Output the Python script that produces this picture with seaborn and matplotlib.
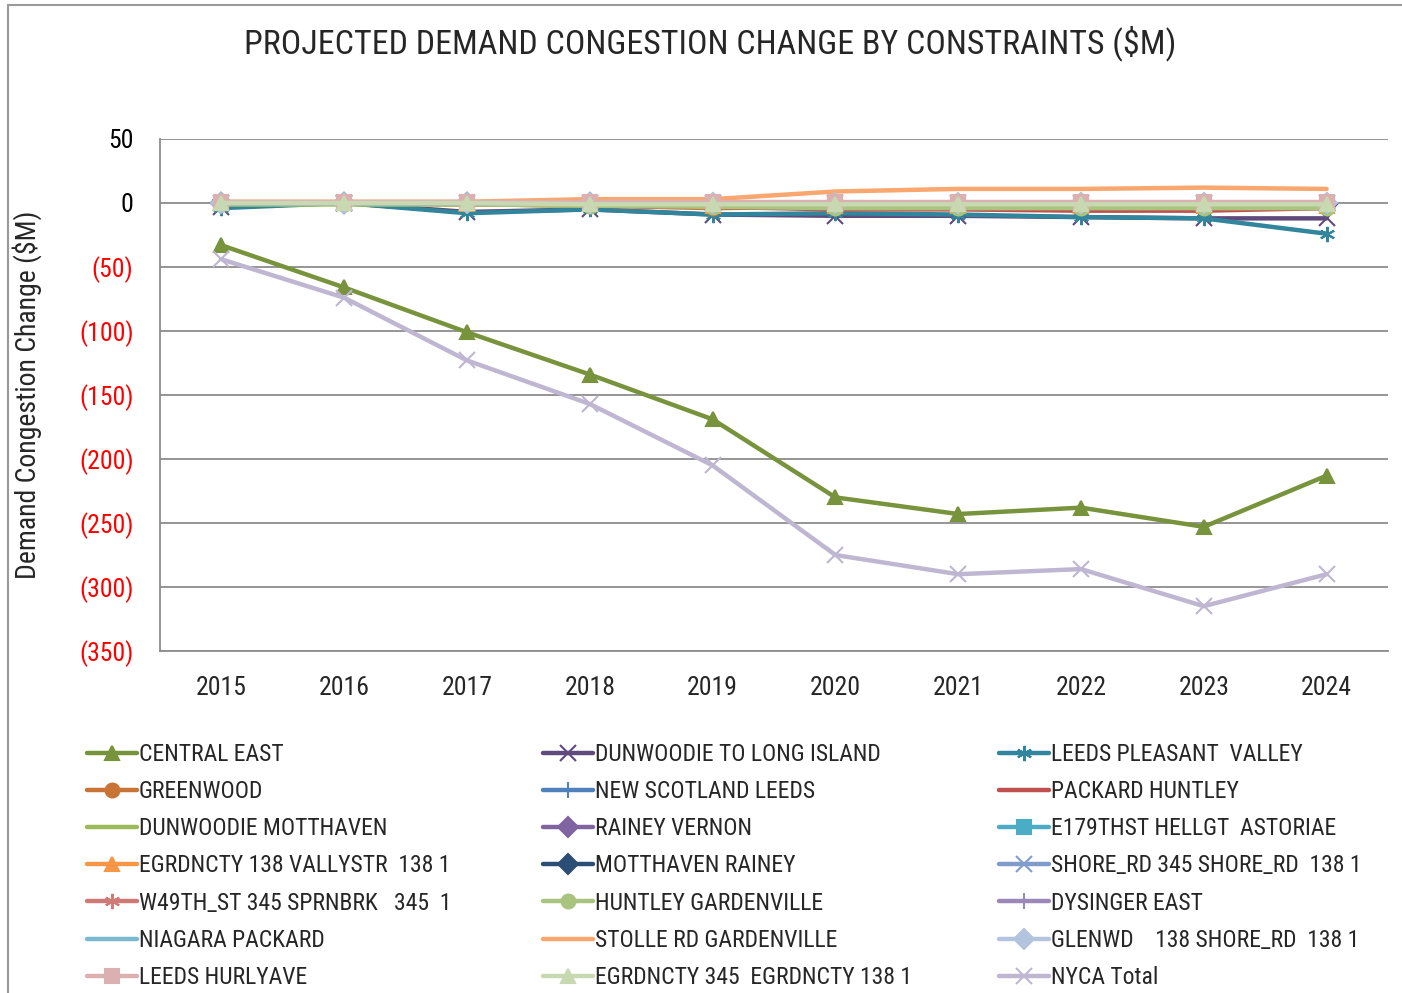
import matplotlib
matplotlib.use("Agg")
import matplotlib.pyplot as plt
from matplotlib.lines import Line2D
from matplotlib import font_manager
import seaborn as sns
import pandas as pd

years = [2015, 2016, 2017, 2018, 2019, 2020, 2021, 2022, 2023, 2024]

# series in legend (row-major) order
names = [
    "CENTRAL EAST", "DUNWOODIE TO LONG ISLAND", "LEEDS PLEASANT  VALLEY",
    "GREENWOOD", "NEW SCOTLAND LEEDS", "PACKARD HUNTLEY",
    "DUNWOODIE MOTTHAVEN", "RAINEY VERNON", "E179THST HELLGT  ASTORIAE",
    "EGRDNCTY 138 VALLYSTR  138 1", "MOTTHAVEN RAINEY", "SHORE_RD 345 SHORE_RD  138 1",
    "W49TH_ST 345 SPRNBRK   345  1", "HUNTLEY GARDENVILLE", "DYSINGER EAST",
    "NIAGARA PACKARD", "STOLLE RD GARDENVILLE", "GLENWD    138 SHORE_RD  138 1",
    "LEEDS HURLYAVE", "EGRDNCTY 345  EGRDNCTY 138 1", "NYCA Total",
]

central_east = [-33, -66, -101, -134, -169, -230, -243, -238, -253, -213]
dunwoodie_li = [-3, 0, -7, -5, -9, -10, -10, -11, -12, -12]
leeds_pv = [-4, 0, -8, -5, -9, -8, -9, -11, -12, -24]
greenwood = [0, 0, -1, -2, -4, -3, -3, -3, -3, -2]
new_scotland = [0, 0, 0, 0, -1, -1, -1, -1, -1, -1]
packard_huntley = [0, 0, -1, -2, -3, -5, -5, -6, -6, -4]
dunwoodie_mott = [-1, -1, -1, -2, -2, -3, -3, -3, -3, -3]
rainey_vernon = [0, 0, 0, -1, -1, -1, -1, -1, -1, -1]
e179 = [0, 0, 0, 0, 0, 0, 0, 0, 0, 0]
egrd138 = [0, 0, -1, -1, -2, -2, -2, -2, -2, -2]
mott_rainey = [0, 0, 0, 0, -1, -1, -1, -1, -1, -1]
shore_rd = [0, 0, 0, 0, 0, 0, 0, 0, 0, 0]
w49th = [0, 0, 0, 0, 0, 0, 0, 0, 0, 0]
huntley_gv = [-1, -1, -1, -2, -3, -4, -4, -4, -4, -4]
dysinger = [0, 0, 0, 0, 0, 0, 0, 0, 0, 0]
niagara = [0, 0, 0, 0, 0, 0, 0, 0, 0, 0]
stolle = [1, 1, 1, 3, 3, 9, 11, 11, 12, 11]
glenwd = [0, 0, 0, 0, 0, 0, 0, 0, 0, 0]
leeds_hurly = [1, 1, 1, 1, 1, 1, 1, 1, 1, 1]
egrd345 = [0, 0, 0, -1, -1, -1, -1, -1, -1, -1]
nyca_total = [-44, -74, -123, -157, -205, -275, -290, -286, -315, -290]

series = [central_east, dunwoodie_li, leeds_pv, greenwood, new_scotland, packard_huntley,
          dunwoodie_mott, rainey_vernon, e179, egrd138, mott_rainey, shore_rd,
          w49th, huntley_gv, dysinger, niagara, stolle, glenwd, leeds_hurly, egrd345, nyca_total]

colors = ["#77933C", "#604A7B", "#31859C", "#C77436", "#4F81BD", "#C0504D",
          "#9BBB59", "#8064A2", "#4BACC6", "#F79646", "#2C4D75", "#7F9BCB",
          "#D07A78", "#A9C47F", "#9C87B8", "#79BACF", "#F9A66F", "#B3C4DE",
          "#DBB0B0", "#C8D8B0", "#BFB6D2"]
AST = (6, 2, 0)
markers = ["^", "x", AST, "o", "+", None,
           None, "D", "s", "^", "D", "x",
           AST, "o", "+", None, None, "D",
           "s", "^", "x"]

sns.set_style("white")
available = {f.name for f in font_manager.fontManager.ttflist}
fam = [f for f in ["Liberation Sans Narrow", "Roboto Condensed", "DejaVu Sans"] if f in available]
plt.rcParams["font.family"] = fam + ["DejaVu Sans"]
plt.rcParams["font.stretch"] = "condensed"

fig = plt.figure(figsize=(14.02, 9.93), dpi=100)
ax = fig.add_axes([160 / 1402, 1 - 651 / 993, (1388 - 160) / 1402, (651 - 139) / 993])

handles = []
for name, vals, c, m in zip(names, series, colors, markers):
    df = pd.DataFrame({"year": years, "value": vals})
    filled = m in ("^", "o", "D", "s")
    sns.lineplot(data=df, x="year", y="value", ax=ax, color=c, lw=3.2,
                 marker=m if m is not None else "", markersize=10 if filled else 11,
                 markeredgewidth=1.5, markeredgecolor=c, markerfacecolor=c,
                 legend=False)
    handles.append(Line2D([], [], color=c, lw=3.2,
                          marker=m if m is not None else "", markersize=10 if filled else 11,
                          markeredgewidth=1.5, markeredgecolor=c, markerfacecolor=c))

ax.set_xlim(2014.5, 2024.5)
ax.set_ylim(-350, 50)
ax.set_xticks(years)
ax.set_xticklabels([str(y) for y in years], fontsize=18.5)
yt = list(range(-350, 51, 50))
ax.set_yticks(yt)
ax.set_yticklabels([f"({abs(v)})" if v < 0 else f"{v}" for v in yt], fontsize=18.5)
for lab, v in zip(ax.get_yticklabels(), yt):
    lab.set_color("red" if v < 0 else "black")
ax.tick_params(axis="both", length=0)
ax.tick_params(axis="y", pad=19)
ax.tick_params(axis="x", pad=18)
ax.grid(axis="y", color="#8c8c8c", lw=1.3)
ax.grid(axis="x", visible=False)
for s in ["top", "right"]:
    ax.spines[s].set_visible(False)
for s in ["left", "bottom"]:
    ax.spines[s].set_color("#8c8c8c")
    ax.spines[s].set_linewidth(1.3)
ax.set_xlabel("")
ax.set_ylabel("Demand Congestion Change ($M)", fontsize=20, labelpad=0)
ax.yaxis.set_label_coords(-118 / 1228, 0.5)

fig.text(710 / 1402, 1 - 43 / 993, "PROJECTED DEMAND CONGESTION CHANGE BY CONSTRAINTS ($M)",
         ha="center", va="center", fontsize=24.5)

# figure border (left and top)
fig.add_artist(Line2D([8 / 1402, 8 / 1402], [0, 1 - 5 / 993], transform=fig.transFigure,
                      color="#9a9a9a", lw=1.5))
fig.add_artist(Line2D([8 / 1402, 1], [1 - 5 / 993, 1 - 5 / 993], transform=fig.transFigure,
                      color="#9a9a9a", lw=1.5))

col_x = [87, 543, 999]
for c in range(3):
    hs = [handles[i * 3 + c] for i in range(7)]
    ls = [names[i * 3 + c] for i in range(7)]
    fig.legend(hs, ls, loc="upper left", bbox_to_anchor=(col_x[c] / 1402, 1 - 743 / 993),
               frameon=False, fontsize=17, handlelength=2.1, handletextpad=0.1,
               labelspacing=0.6, borderpad=0, borderaxespad=0)

fig.savefig("out.png", dpi=100)
